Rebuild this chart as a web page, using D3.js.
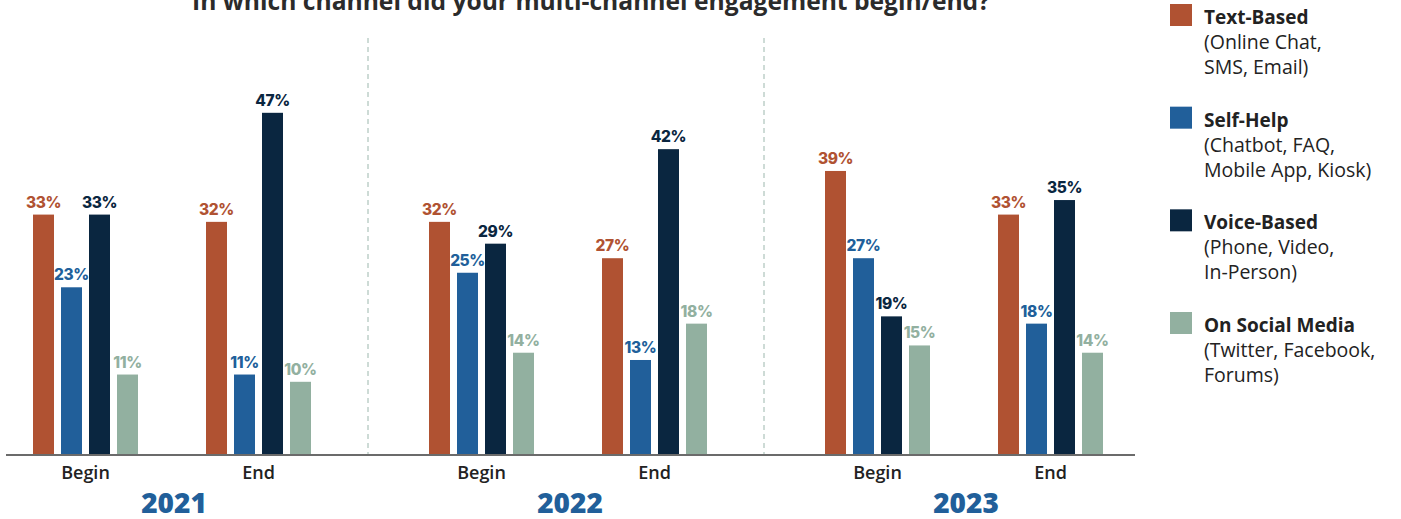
<!DOCTYPE html>
<html>
<head>
<meta charset="utf-8">
<script src="https://cdn.jsdelivr.net/npm/d3@7"></script>
<style>
  html, body { margin: 0; padding: 0; background: #fff; }
  svg { display: block; }
</style>
</head>
<body>
<svg id="chart" width="1401" height="519"></svg>
<script>
// Survey results: share of multi-channel engagements by starting / ending channel
const years = ["2021", "2022", "2023"];
const phases = ["Begin", "End"];
const channels = ["Text-Based", "Self-Help", "Voice-Based", "On Social Media"];
const channelNotes = [
  ["(Online Chat,", "SMS, Email)"],
  ["(Chatbot, FAQ,", "Mobile App, Kiosk)"],
  ["(Phone, Video,", "In-Person)"],
  ["(Twitter, Facebook,", "Forums)"]
];
const channelColors = ["#b05232", "#215f9a", "#0a2640", "#92b0a0"];

// Values per year/phase, in order: 2021 Begin, 2021 End, 2022 Begin, 2022 End, 2023 Begin, 2023 End
const textBased   = [33, 32, 32, 27, 39, 33];
const selfHelp    = [23, 11, 25, 13, 27, 18];
const voiceBased  = [33, 47, 29, 42, 19, 35];
const socialMedia = [11, 10, 14, 18, 15, 14];

const title = "In which channel did your multi-channel engagement begin/end?";

const seriesValues = [textBased, selfHelp, voiceBased, socialMedia];
const rows = [];
years.forEach((yr, yi) => {
  phases.forEach((ph, pi) => {
    const idx = yi * phases.length + pi;
    channels.forEach((ch, ci) => {
      rows.push({ year: yr, phase: ph, channel: ch, ci, value: seriesValues[ci][idx] });
    });
  });
});

const svg = d3.select("#chart");
const baseY = 454.5;
const sans = "'Open Sans', Lato, sans-serif";

const x = d3.scaleBand().domain(years).range([-26, 1162]);
const xPhase = d3.scalePoint().domain(phases).range([111.5, 284.5]);
const xSeries = d3.scaleBand().domain(channels).range([-52.5, 52.5]).paddingInner(0.25);
const y = d3.scaleLinear().domain([0, 50]).range([baseY, baseY - 363.5]);
const color = d3.scaleOrdinal().domain(channels).range(channelColors);

const barX = d => x(d.year) + xPhase(d.phase) + xSeries(d.channel);

// Title (runs off the top edge); sized to span its measured width
const titleText = svg.append("text")
  .attr("x", 591).attr("y", 9.5)
  .attr("text-anchor", "middle")
  .style("font-family", sans)
  .style("font-weight", 700)
  .style("font-size", "22px")
  .style("fill", "#2b2b2b")
  .text(title);
const tw = titleText.node().getComputedTextLength();
titleText.style("font-size", (22 * 798 / tw).toFixed(2) + "px");

// Dashed separators between years
svg.append("g").selectAll("line")
  .data(years.slice(1))
  .join("line")
  .attr("x1", d => x(d) - 2).attr("x2", d => x(d) - 2)
  .attr("y1", 38).attr("y2", baseY)
  .attr("stroke", "#9cb7ad")
  .attr("stroke-width", 1)
  .attr("stroke-dasharray", "5,4");

// Bars
svg.append("g").selectAll("rect")
  .data(rows)
  .join("rect")
  .attr("x", barX)
  .attr("y", d => y(d.value))
  .attr("width", xSeries.bandwidth())
  .attr("height", d => baseY - y(d.value))
  .attr("fill", d => color(d.channel));

// Value labels
svg.append("g").selectAll("text")
  .data(rows)
  .join("text")
  .attr("x", d => barX(d) + xSeries.bandwidth() / 2)
  .attr("y", d => y(d.value) - 7)
  .attr("text-anchor", "middle")
  .style("font-family", "Inter, Lato, sans-serif")
  .style("font-weight", 800)
  .style("font-size", "15.5px")
  .style("letter-spacing", "-0.4px")
  .style("fill", d => color(d.channel))
  .text(d => d.value + "%");

// Baseline
svg.append("line")
  .attr("x1", 6).attr("x2", 1135)
  .attr("y1", baseY + 0.5).attr("y2", baseY + 0.5)
  .attr("stroke", "#6b6b6b")
  .attr("stroke-width", 2);

// Phase labels
const phaseRows = years.flatMap(yr => phases.map(ph => ({ year: yr, phase: ph })));
svg.append("g").selectAll("text")
  .data(phaseRows)
  .join("text")
  .attr("x", d => x(d.year) + xPhase(d.phase))
  .attr("y", 479)
  .attr("text-anchor", "middle")
  .style("font-family", sans)
  .style("font-weight", 600)
  .style("font-size", "18px")
  .style("fill", "#222")
  .text(d => d.phase);

// Year labels
svg.append("g").selectAll("text")
  .data(years)
  .join("text")
  .attr("x", d => x(d) + x.bandwidth() / 2 + 2)
  .attr("y", 513)
  .attr("text-anchor", "middle")
  .style("font-family", sans)
  .style("font-weight", 800)
  .style("font-size", "28px")
  .style("fill", "#215f9a")
  .text(d => d);

// Legend
const legendY = d3.scalePoint().domain(channels).range([4, 312]);
const legend = svg.append("g").selectAll("g")
  .data(channels)
  .join("g")
  .attr("transform", d => `translate(1170, ${legendY(d)})`);

legend.append("rect")
  .attr("width", 22).attr("height", 22)
  .attr("fill", d => color(d));

legend.append("text")
  .attr("x", 34).attr("y", 20)
  .style("font-family", sans)
  .style("font-weight", 700)
  .style("font-size", "19px")
  .style("fill", "#222")
  .text(d => d);

legend.each(function (d, i) {
  d3.select(this).selectAll("text.note")
    .data(channelNotes[i])
    .join("text")
    .attr("class", "note")
    .attr("x", 34)
    .attr("y", (t, j) => 45 + j * 25)
    .style("font-family", sans)
    .style("font-weight", 400)
    .style("font-size", "19.5px")
    .style("fill", "#222")
    .text(t => t);
});
</script>
</body>
</html>
